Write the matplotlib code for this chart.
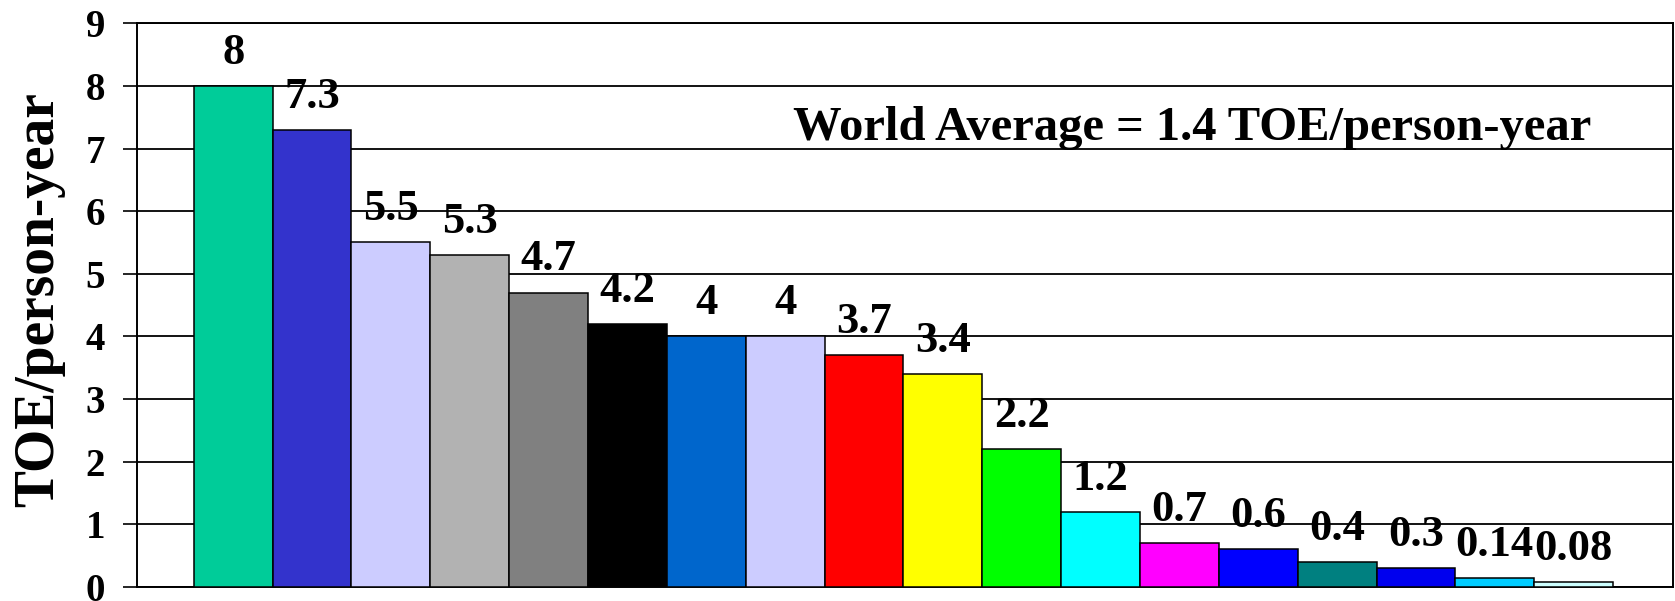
import numpy as np
import matplotlib
matplotlib.use("Agg")
import matplotlib.pyplot as plt

# per-capita energy use, sorted high to low (TOE/person-year)
values = [8, 7.3, 5.5, 5.3, 4.7, 4.2, 4, 4, 3.7, 3.4, 2.2, 1.2, 0.7, 0.6, 0.4, 0.3, 0.14, 0.08]
value_labels = ["8", "7.3", "5.5", "5.3", "4.7", "4.2", "4", "4", "3.7", "3.4",
                "2.2", "1.2", "0.7", "0.6", "0.4", "0.3", "0.14", "0.08"]
colors = ["#00CC99", "#3333CC", "#CCCCFF", "#B2B2B2", "#808080", "#000000",
          "#0066CC", "#CCCCFF", "#FF0000", "#FFFF00", "#00FF00", "#00FFFF",
          "#FF00FF", "#0000FF", "#008080", "#0000EE", "#00CCFF", "#CCFFFF"]
yticks = list(range(0, 10))
world_avg = "World Average = 1.4 TOE/person-year"

plt.rcParams['font.family'] = ['Liberation Serif', 'DejaVu Serif']
plt.rcParams['font.weight'] = 'bold'

fig = plt.figure(figsize=(16.75, 6.01), dpi=100)
ax = fig.add_axes([0.0818, 0.0233, 0.917, 0.938])

x = np.arange(len(values))
ax.bar(x, values, width=1.0, color=colors, edgecolor="black", linewidth=1.1, zorder=3)

for xi, v, lab in zip(x, values, value_labels):
    ax.annotate(lab, (xi, v), xytext=(0, 16), textcoords="offset points",
                ha="center", va="baseline", fontsize=32, fontweight="bold", zorder=4)

ax.set_ylim(0, 9)
ax.set_xlim(-1.22, 18.26)
ax.set_yticks(yticks)
ax.yaxis.grid(True, color="black", linewidth=1.3, zorder=0)
ax.set_xticks([])
ax.tick_params(axis="y", direction="out", length=10, width=1.2, pad=13, labelsize=28)
for s in ax.spines.values():
    s.set_linewidth(1.4)
    s.set_color("black")

ax.set_ylabel("TOE/person-year", fontsize=40, fontweight="bold")
ax.yaxis.set_label_coords(-0.047, 0.51)

ax.text(0.687, 0.815, world_avg, transform=ax.transAxes, ha="center", va="center",
        fontsize=35, fontweight="bold")

plt.savefig("out.png", dpi=100)
